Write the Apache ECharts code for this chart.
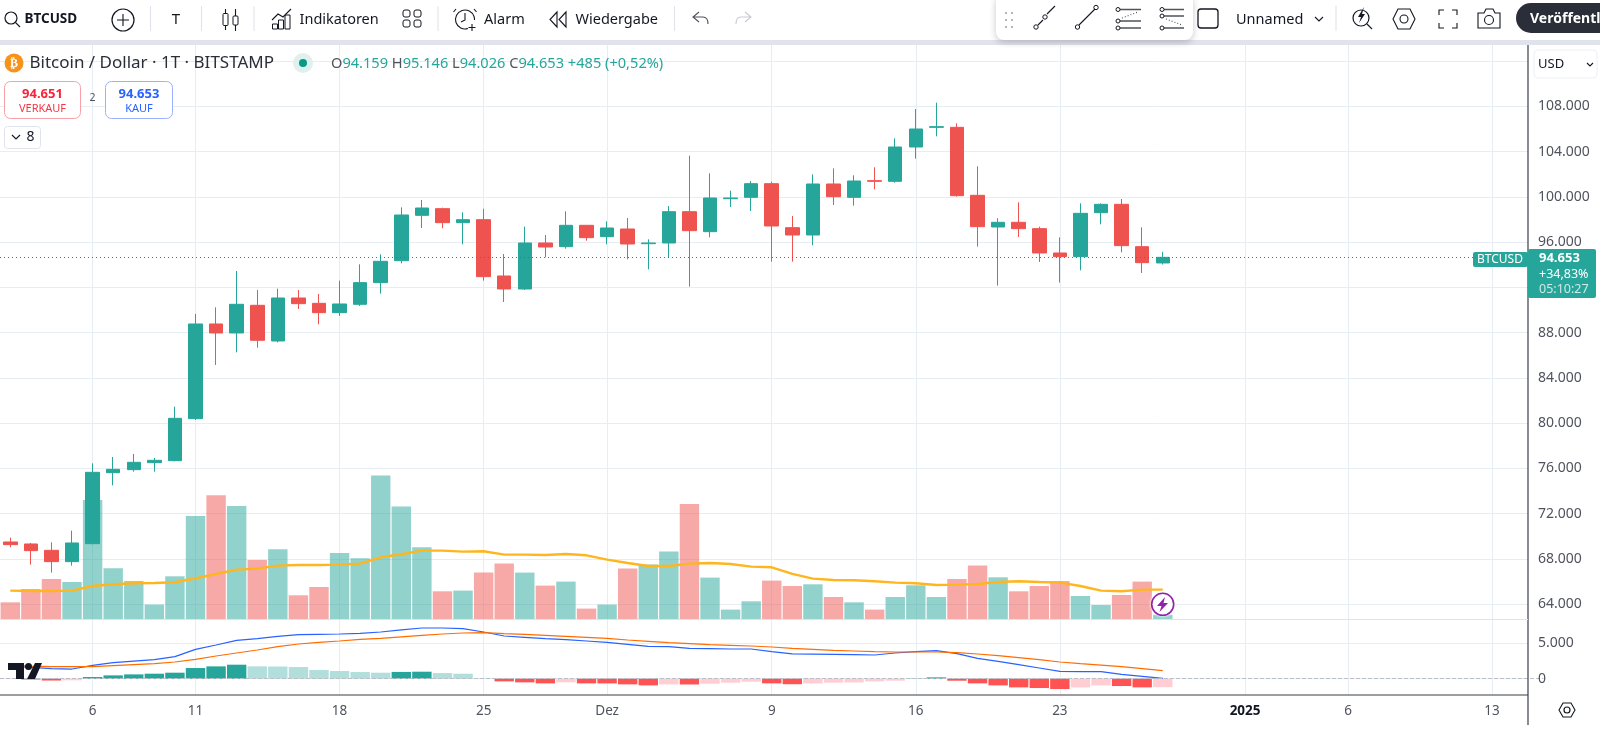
<!DOCTYPE html>
<html>
<head>
<meta charset="utf-8">
<title>BTCUSD</title>
<script src="https://cdn.jsdelivr.net/npm/echarts@6/dist/echarts.min.js"></script>
<style>
  html, body { margin: 0; padding: 0; background: #fff; }
  #chart { width: 1600px; height: 731px; }
</style>
</head>
<body>
<div id="chart"></div>
<script>
// Tage im Chart, die letzten sind leerer Platz rechts der letzten Kerze
const dates = [
  "11-02","11-03","11-04","11-05","11-06","11-07","11-08","11-09","11-10","11-11","11-12","11-13","11-14","11-15","11-16",
  "11-17","11-18","11-19","11-20","11-21","11-22","11-23","11-24","11-25","11-26","11-27","11-28","11-29","11-30",
  "12-01","12-02","12-03","12-04","12-05","12-06","12-07","12-08","12-09","12-10","12-11","12-12","12-13","12-14","12-15",
  "12-16","12-17","12-18","12-19","12-20","12-21","12-22","12-23","12-24","12-25","12-26","12-27","12-28","12-29","12-30","12-31",
  "01-01","01-02","01-03","01-04","01-05","01-06","01-07","01-08","01-09","01-10","01-11","01-12","01-13","01-14","01-15",
];
const tickDates = ["11-06","11-11","11-18","11-25","12-01","12-09","12-16","12-23","01-01","01-06","01-13"];
const tickLabels = ["6","11","18","25","Dez","9","16","23","2025","6","13"];

const open = [69504,69327,68768,67766,69357,75629,75894,76513,76690,80400,88766,87971,90416,87264,91063,90592,89767,90504,92418,94361,98366,98955,97718,97983,93006,91858,95922,95598,97483,96482,97159,95863,95922,98690,96923,99839,99956,101164,97277,96629,101135,99957,101430,101371,104404,106141,106142,100134,97336,97749,97189,95039,94715,98602,99339,95598,94159];
const close = [69268,68738,67766,69416,75659,75924,76542,76719,80430,88766,87971,90504,87323,91063,90563,89767,90533,92418,94303,98396,99014,97718,97983,92948,91858,95922,95569,97483,96393,97247,95834,95922,98690,97012,99898,99898,101164,97424,96629,101135,100016,101400,101371,104404,105994,106200,100104,97366,97749,97189,95039,94715,98543,99339,95687,94185,94653];
const low = [69033,67501,66795,67413,69300,74510,75718,75718,76631,80283,85144,86263,86675,87146,90091,88737,89473,90357,91446,94125,97247,97218,95804,92594,90709,91770,94656,95421,96128,95804,94479,93596,94656,92064,96423,99103,98749,94273,94273,95716,99280,99221,100664,101253,103373,105346,100016,95598,92153,96453,94244,92418,93508,97572,95098,93272,94026];
const high = [69887,69416,69475,70505,76454,77014,77279,76925,81460,89650,90239,93449,91770,91888,91770,91417,92595,94037,94921,99073,99721,99044,98631,98955,94950,97365,96629,98720,97483,97836,98131,96246,99191,103638,102077,100546,101400,101341,98308,101989,102519,101901,102608,105170,107761,108321,106495,102696,98102,99515,97366,96423,99427,99427,99810,97307,95146];

const volume = [170,303,403,373,1193,510,383,147,430,1033,1240,1133,593,700,240,323,663,610,1437,1127,720,280,287,467,557,467,337,377,107,147,507,547,677,1153,417,97,180,387,333,350,223,170,97,223,340,223,403,537,420,280,333,383,233,143,243,377,45];
const volumeMA = [287,283,283,287,333,350,360,363,370,410,453,497,507,537,543,543,547,557,620,650,687,687,677,680,647,647,643,653,640,597,563,533,533,557,563,553,527,520,455,407,393,390,380,367,360,343,347,353,373,380,373,367,333,287,280,297,297];

const macdLine = [1790,1600,1413,1366,1884,2261,2496,2685,3109,4145,4757,5417,5652,5982,6217,6264,6311,6406,6594,6900,7159,7159,7065,6594,6029,5840,5652,5511,5322,5134,4851,4569,4522,4286,4239,4192,4192,3815,3510,3485,3438,3391,3344,3627,3815,3956,3533,2873,2449,1978,1507,1036,989,989,612,330,47];
const signalLine = [1931,1790,1696,1696,1696,1837,1978,2120,2355,2732,3203,3627,4051,4522,4898,5134,5322,5558,5699,5910,6123,6311,6453,6500,6359,6264,6123,5982,5840,5699,5464,5275,5087,4946,4804,4710,4616,4475,4286,4145,4003,3909,3815,3768,3768,3768,3674,3485,3250,2967,2685,2355,2120,1931,1696,1413,1130];
const histogram = [-40,-120,-260,-230,235,470,610,706,848,1507,1743,1978,1743,1720,1648,1225,1083,942,848,960,989,800,706,47,-377,-518,-660,-518,-660,-665,-800,-942,-800,-815,-706,-565,-424,-660,-780,-670,-560,-530,-377,-283,30,188,-283,-660,-942,-1225,-1319,-1460,-1225,-942,-1036,-1225,-1200];

const priceTicks = { min: 64000, max: 112000, step: 4000 };
const macdTicks = { min: -5000, max: 10000, step: 5000 };

const UP = "#26a69a";
const DOWN = "#ef5350";
const GRID = "#e6edf3";
const INK = "#131722";
const FONT = "'Noto Sans', sans-serif";
const deNum = (v) => v.toLocaleString("de-DE");

const band = 20.58; // Breite eines Tages in Pixeln
const axisX = 1528;
const gridW = band * dates.length;

// Kopfzeile, Icons usw. - keine Daten, nur Rahmen
let icoCount = 0;
const pathType = (d) => {
  const name = "ico" + icoCount++;
  echarts.graphic.registerShape(name, echarts.graphic.extendPath(d, {}));
  return name;
};
const txt = (x, y, text, o = {}) => ({
  type: "text", z: o.z || 30,
  style: Object.assign({ x, y, text, fill: INK, verticalAlign: "middle", font: `14.5px ${FONT}` }, o.style || {}),
});
const box = (x, y, w, h, r, fill, stroke, o = {}) => ({
  type: "rect", z: o.z || 30,
  shape: { x, y, width: w, height: h, r },
  style: Object.assign({ fill: fill || "transparent", stroke: stroke || null, lineWidth: 1 }, o.style || {}),
});
const ring = (cx, cy, r, stroke, o = {}) => ({
  type: "circle", z: o.z || 30,
  shape: { cx, cy, r },
  style: Object.assign({ fill: "transparent", stroke, lineWidth: 1.2 }, o.style || {}),
});
const ico = (d, stroke = INK, o = {}) => ({
  type: pathType(d), z: o.z || 30,
  style: Object.assign({ fill: "transparent", stroke, lineWidth: 1.1 }, o.style || {}),
});
const fillIco = (d, fill, z = 30) => ({ type: pathType(d), z, style: { fill, stroke: null } });
const divider = (x) => ico(`M${x} 6L${x} 31`, "#e0e3eb");

const chrome = [
  // weisser Streifen rechts fuer die Preisachse
  box(axisX, 42, 72, 689, 0, "#fff", null, { z: 5 }),
  box(0, 40, 1600, 5, 0, "#e0e3eb", null, { z: 6 }),
  ico(`M${axisX} 45L${axisX} 725`, "#3a3e47", { z: 8, style: { lineWidth: 1.2 } }),
  ico(`M0 619.5L${axisX} 619.5`, "#dfe3ea", { z: 8 }),
  ico(`M0 695L${axisX} 695`, "#3a3e47", { z: 8, style: { lineWidth: 1.2 } }),

  // Werkzeugleiste links
  ring(11, 18, 6, INK),
  ico("M15.5 22.5L20 27"),
  txt(24.5, 19.5, "BTCUSD", { style: { font: `bold 13.5px ${FONT}` } }),
  ring(123, 20, 11, INK),
  ico("M117 20L129 20M123 14L123 26"),
  divider(150.5),
  txt(176, 19.5, "T", { style: { align: "center", font: `15px ${FONT}` } }),
  divider(201.5),
  ico("M225.5 9L225.5 30M235.5 9L235.5 31"),
  box(223, 13.5, 5, 12, 1, "#fff", INK),
  box(233, 16, 5, 9, 1, "#fff", INK),
  divider(254),
  ico("M272 20L278 14L283 17L291 9"),
  box(272.5, 24, 5, 5, 0, null, INK),
  box(278.5, 20, 5, 9, 0, null, INK),
  box(285, 15, 5, 14, 0, null, INK),
  txt(299.5, 19.5, "Indikatoren"),
  box(403, 10, 7, 7, 2, null, INK),
  box(414, 10, 7, 7, 2, null, INK),
  box(403, 20, 7, 7, 2, null, INK),
  box(414, 20, 7, 7, 2, null, INK),
  divider(438),
  ico("M468 28.5A9.5 9.5 0 1 1 474.5 20M465 13L465 20L461 22M456 9L453.5 12M474 9L476.5 12M472 24L472 31M468.5 27.5L475.5 27.5"),
  txt(484, 19.5, "Alarm"),
  ico("M557 12L550 19.5L557 27ZM566 12L559 19.5L566 27Z"),
  txt(575.5, 19.5, "Wiedergabe"),
  divider(674.5),
  ico("M699 12L693 17L699 22M693 17L703 17Q708 17 708 24", "#50535e"),
  ico("M745 12L751 17L745 22M751 17L741 17Q736 17 736 24", "#c8cbd3"),

  // schwebende Zeichenleiste
  box(996, -6, 197, 46, 8, "#fff", null, { z: 29, style: { shadowBlur: 7, shadowColor: "rgba(0,0,0,0.22)", shadowOffsetY: 2 } }),
  fillIco("M1005 12h2v2h-2zM1011 12h2v2h-2zM1005 19h2v2h-2zM1011 19h2v2h-2zM1005 26h2v2h-2zM1011 26h2v2h-2z", "#b2b5be"),
  ico("M1038 25L1043 20M1047 14L1055 6"),
  ring(1036, 27, 2.2, INK, { style: { lineWidth: 1 } }),
  ring(1045, 17, 2.2, INK, { style: { lineWidth: 1 } }),
  ico("M1079 25L1095 9"),
  ring(1077.5, 27, 2.2, INK, { style: { lineWidth: 1 } }),
  ring(1096, 7.5, 2.2, INK, { style: { lineWidth: 1 } }),
  ico("M1120 9.5L1141 9.5M1120 21L1141 21M1120 28L1141 28", "#50535e", { style: { lineWidth: 1.4 } }),
  ico("M1122 18L1138 12", "#50535e", { style: { lineDash: [1, 2] } }),
  ring(1118, 9.5, 2, INK, { style: { lineWidth: 1 } }),
  ring(1118, 21, 2, INK, { style: { lineWidth: 1 } }),
  ring(1118, 28, 2, INK, { style: { lineWidth: 1 } }),
  ico("M1164 9.5L1184 9.5M1164 16L1184 16M1164 28L1184 28", "#50535e", { style: { lineWidth: 1.4 } }),
  ico("M1166 19L1182 25", "#50535e", { style: { lineDash: [1, 2] } }),
  ring(1162, 9.5, 2, INK, { style: { lineWidth: 1 } }),
  ring(1162, 16, 2, INK, { style: { lineWidth: 1 } }),
  ring(1162, 28, 2, INK, { style: { lineWidth: 1 } }),

  // Werkzeugleiste rechts
  box(1198, 9, 20, 19, 3, null, INK, { style: { lineWidth: 1.3 } }),
  txt(1236, 19.5, "Unnamed"),
  ico("M1315 17L1319 21L1323 17"),
  divider(1336),
  ring(1361, 18, 8, INK),
  ico("M1367 24L1372 29"),
  fillIco("M1364 7L1358 17L1361 17L1359 23L1365 14L1362 14Z", INK),
  ico("M1393 19L1398 9L1410 9L1415 19L1410 29L1398 29Z"),
  ring(1404, 19, 4, INK, { style: { lineWidth: 1.1 } }),
  ico("M1439 15L1439 10L1444 10M1452 10L1457 10L1457 15M1457 23L1457 28L1452 28M1444 28L1439 28L1439 23"),
  ico("M1478 13L1484 13L1486 9L1493 9L1495 13L1500 13L1500 28L1478 28Z"),
  ring(1489, 20, 4.5, INK, { style: { lineWidth: 1.1 } }),
  box(1516, 3, 100, 30, 15, "#2a2e39"),
  txt(1530, 19, "Veröffentl", { style: { fill: "#fff", font: `bold 14px ${FONT}` } }),

  // Legende
  { type: "circle", z: 30, shape: { cx: 14, cy: 63, r: 9.5 }, style: { fill: "#f7931a" } },
  txt(14, 63.5, "₿", { style: { fill: "#fff", align: "center", font: "bold 12px 'DejaVu Sans'" } }),
  txt(29.5, 63.5, "Bitcoin / Dollar · 1T · BITSTAMP", { style: { fill: "#2a2e39", font: `17px ${FONT}` } }),
  box(293, 53, 20, 20, 10, "#dff1ee"),
  { type: "circle", z: 31, shape: { cx: 303, cy: 63, r: 4 }, style: { fill: "#089981" } },
  {
    type: "text", z: 30,
    style: {
      x: 331, y: 63.5, verticalAlign: "middle", fill: UP, font: `14.6px ${FONT}`,
      text: "{g|O}94.159 {g|H}95.146 {g|L}94.026 {g|C}94.653 +485 (+0,52%)",
      rich: { g: { fill: "#50535e", font: `14.6px ${FONT}` } },
    },
  },
  box(4.5, 81.5, 76, 37, 6, "#fff", "#f7a0a8"),
  txt(42.5, 94, "94.651", { style: { align: "center", fill: "#f7253b", font: `bold 13px ${FONT}` } }),
  txt(42.5, 109, "VERKAUF", { style: { align: "center", fill: "#f23645", font: `11px ${FONT}` } }),
  txt(92.5, 98, "2", { style: { align: "center", fill: "#50535e", font: `10.5px ${FONT}` } }),
  box(105.5, 81.5, 67, 37, 6, "#fff", "#9db2ff"),
  txt(139, 94, "94.653", { style: { align: "center", fill: "#2962ff", font: `bold 13px ${FONT}` } }),
  txt(139, 109, "KAUF", { style: { align: "center", fill: "#2962ff", font: `11px ${FONT}` } }),
  box(4.5, 126.5, 36, 22, 3, "#fff", "#e0e3eb"),
  ico("M12 135L16 139L20 135"),
  txt(30.5, 137.5, "8", { style: { align: "center", font: `14px ${FONT}` } }),

  // Waehrung
  box(1534, 50, 63, 28, 4, "#fff", "#eceff4"),
  txt(1538, 64, "USD", { style: { font: `13px ${FONT}` } }),
  ico("M1587 63L1590 66L1593 63"),

  // Kursmarke
  box(1473, 252, 55, 15, 2, UP),
  txt(1477, 259.8, "BTCUSD", { style: { fill: "#fff", font: `12px ${FONT}` } }),
  box(1528, 249, 68, 49, 2, UP),
  txt(1539, 258.5, "94.653", { style: { fill: "#fff", font: `bold 13px ${FONT}` } }),
  txt(1539, 274, "+34,83%", { style: { fill: "#fff", font: `12.5px ${FONT}` } }),
  txt(1539, 289, "05:10:27", { style: { fill: "#cdeae6", font: `12.5px ${FONT}` } }),

  // TV-Logo
  fillIco("M8 663L24 663L24 679L16 679L16 670L8 670Z", INK, 31),
  { type: "circle", z: 31, shape: { cx: 28.5, cy: 666.5, r: 3.5 }, style: { fill: INK } },
  fillIco("M35 663L42 663L35 679L27 679Z", INK, 31),

  // Blitz
  { type: "circle", z: 31, shape: { cx: 1162.7, cy: 604.3, r: 11 }, style: { fill: "#fff", stroke: "#8e24aa", lineWidth: 1.6, shadowBlur: 3, shadowColor: "#fff" } },
  fillIco("M1165 597L1157 606L1161.5 606L1159.5 612L1168 603L1163.5 603Z", "#8e24aa", 32),

  // Einstellungen unten rechts
  ico("M1559 710L1563 703L1571 703L1575 710L1571 717L1563 717Z"),
  ring(1567, 710, 3, INK),
];

const isTick = (i) => tickDates.includes(dates[i]);
const hiddenX = (gridIndex) => ({ type: "category", gridIndex, data: dates, show: false });
const labelStyle = { margin: 10, color: "#50535e", fontFamily: FONT, fontSize: 14, formatter: deNum };

// Linien und Beschriftung der Preisachsen getrennt: die Linien bleiben unter den Kerzen,
// die Beschriftung liegt ueber dem weissen Streifen
const lineAxis = (gridIndex, ticks, splitLine) => ({
  type: "value",
  gridIndex,
  min: ticks.min,
  max: ticks.max,
  interval: ticks.step,
  axisLine: { show: false },
  axisTick: { show: false },
  axisLabel: { show: false },
  splitLine,
});
const labelAxis = (gridIndex, ticks, extra) => ({
  type: "value",
  gridIndex,
  position: "right",
  offset: axisX - gridW,
  z: 10,
  min: ticks.min,
  max: ticks.max,
  interval: ticks.step,
  axisLine: { show: false },
  axisTick: { show: false },
  splitLine: { show: false },
  axisLabel: Object.assign({}, labelStyle, extra),
});

const myChart = echarts.init(document.getElementById("chart"));
myChart.setOption({
  animation: false,
  backgroundColor: "#fff",
  graphic: { elements: chrome },
  grid: [
    // 0: senkrechte Linien und Zeitachse
    { left: 0, top: 45, width: gridW, height: 650 },
    // 1: Preis, 2: Volumen, 3: MACD
    { left: 0, top: 61.03, width: gridW, height: 543.24 },
    { left: 0, top: 45, width: gridW, height: 574.3 },
    { left: 0, top: 607.9, width: gridW, height: 106.2 },
  ],
  xAxis: [
    {
      type: "category",
      gridIndex: 0,
      data: dates,
      axisLine: { show: false },
      axisTick: { show: false },
      splitLine: { show: true, interval: isTick, alignWithLabel: true, lineStyle: { color: GRID } },
      axisLabel: {
        interval: isTick,
        margin: 9,
        color: "#50535e",
        fontFamily: FONT,
        fontSize: 13.5,
        hideOverlap: false,
        formatter: (v) => {
          const label = tickLabels[tickDates.indexOf(v)];
          return label === "2025" ? `{b|${label}}` : label;
        },
        rich: { b: { fontWeight: "bold", color: INK, fontFamily: FONT, fontSize: 13.5 } },
      },
    },
    hiddenX(1),
    hiddenX(2),
    hiddenX(3),
  ],
  yAxis: [
    { type: "value", gridIndex: 0, show: false, min: 0, max: 1 },
    lineAxis(1, priceTicks, { lineStyle: { color: GRID } }),
    { type: "value", gridIndex: 2, show: false, min: 0, max: 5743 },
    lineAxis(3, macdTicks, { showMinLine: false, showMaxLine: false, lineStyle: { color: GRID } }),
    labelAxis(1, priceTicks),
    labelAxis(3, macdTicks, { showMinLabel: false, showMaxLabel: false }),
  ],
  series: [
    {
      name: "Volumen",
      type: "bar",
      xAxisIndex: 2,
      yAxisIndex: 2,
      z: 2,
      barWidth: 19.4,
      data: volume.map((v, i) => ({
        value: v,
        itemStyle: { color: close[i] < open[i] ? "rgba(239,83,80,0.5)" : "rgba(38,166,154,0.5)" },
      })),
    },
    {
      name: "Vol MA",
      type: "line",
      xAxisIndex: 2,
      yAxisIndex: 2,
      z: 3,
      symbol: "none",
      lineStyle: { color: "#ffb61e", width: 2.4 },
      data: volumeMA,
    },
    {
      name: "BTCUSD",
      type: "candlestick",
      xAxisIndex: 1,
      yAxisIndex: 1,
      z: 4,
      barWidth: 14,
      itemStyle: { color: UP, color0: DOWN, borderColor: UP, borderColor0: DOWN, borderWidth: 1 },
      data: open.map((o, i) => [o, close[i], low[i], high[i]]),
      markLine: {
        silent: true,
        symbol: "none",
        label: { show: false },
        lineStyle: { color: "#1b8a80", type: [1, 3], width: 1 },
        data: [{ yAxis: close[close.length - 1] }],
      },
    },
    {
      name: "Histogramm",
      type: "bar",
      xAxisIndex: 3,
      yAxisIndex: 3,
      z: 2,
      barWidth: 19.4,
      data: histogram.map((v, i) => {
        const rising = i === 0 || v >= histogram[i - 1];
        let color;
        if (v >= 0) color = rising ? UP : "#b2dfdb";
        else color = rising ? "#ffcdd2" : "#ff5252";
        return { value: v, itemStyle: { color } };
      }),
      markLine: {
        silent: true,
        symbol: "none",
        label: { show: false },
        lineStyle: { color: "#bcbfc7", type: "dashed", width: 1 },
        data: [{ yAxis: 0 }],
      },
    },
    {
      name: "MACD",
      type: "line",
      xAxisIndex: 3,
      yAxisIndex: 3,
      z: 3,
      symbol: "none",
      lineStyle: { color: "#2962ff", width: 1.2 },
      data: macdLine,
    },
    {
      name: "Signal",
      type: "line",
      xAxisIndex: 3,
      yAxisIndex: 3,
      z: 3,
      symbol: "none",
      lineStyle: { color: "#ff6d00", width: 1.2 },
      data: signalLine,
    },
  ],
});
</script>
</body>
</html>
